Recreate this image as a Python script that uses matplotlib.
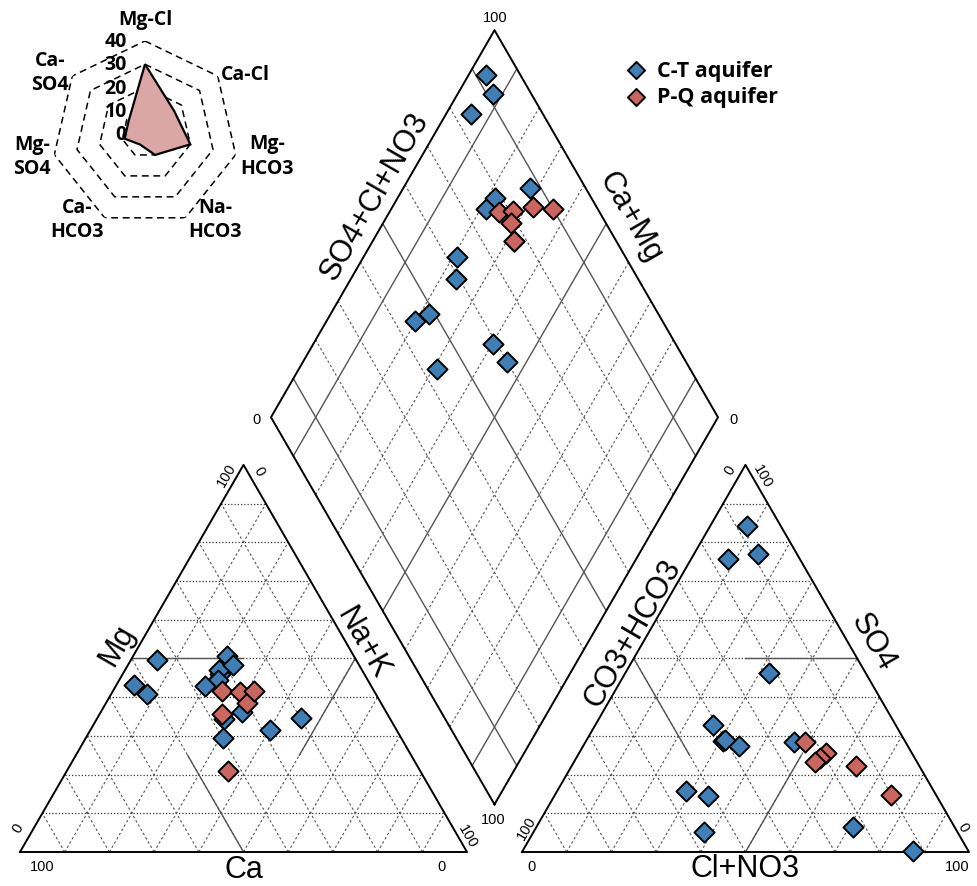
import numpy as np
import matplotlib
matplotlib.use("Agg")
import matplotlib.pyplot as plt

plt.rcParams['font.family'] = ['Liberation Sans', 'DejaVu Sans']

# ---- sample compositions (% meq) ----
# C-T aquifer
ct_ca   = [52.9, 51.3, 44.6, 37.2, 32.2, 28.3, 32.0, 28.1, 33.5, 37.2, 28.3, 19.9, 39.8, 32.3]
ct_mg   = [43.1, 40.8, 49.7, 34.4, 46.0, 50.6, 47.0, 48.3, 44.5, 43.0, 31.6, 34.5, 29.4, 36.1]
ct_nak  = [4.0, 7.9, 5.7, 28.4, 21.8, 21.1, 21.0, 23.6, 22.0, 19.8, 40.1, 45.6, 30.8, 31.6]
ct_hco3 = [7.6, 8.6, 16.0, 12.3, 21.6, 25.0, 37.7, 40.7, 51.2, 55.4, 40.9, 40.0, 56.7, 22.8]
ct_so4  = [84.3, 77.0, 75.7, 0.3, 46.2, 28.3, 27.5, 28.6, 14.5, 15.7, 32.9, 29.0, 5.1, 6.4]
ct_cl   = [8.1, 14.4, 8.3, 87.4, 32.2, 46.7, 34.8, 30.7, 34.3, 28.9, 26.2, 31.0, 38.2, 70.8]

# P-Q aquifer
pq_ca   = [33.9, 36.9, 30.1, 30.0, 26.9, 42.9]
pq_mg   = [41.6, 35.6, 41.4, 38.4, 41.5, 21.0]
pq_nak  = [24.5, 27.5, 28.5, 31.6, 31.6, 36.1]
pq_hco3 = [22.5, 19.2, 21.2, 22.8, 14.2, 10.1]
pq_so4  = [28.3, 25.7, 24.2, 23.3, 22.1, 14.7]
pq_cl   = [49.2, 55.1, 54.6, 53.9, 63.7, 75.2]

# hydrochemical facies frequency (radar)
radar_labels = ['Mg-Cl', 'Ca-Cl', 'Mg-\nHCO3', 'Na-\nHCO3', 'Ca-\nHCO3', 'Mg-\nSO4', 'Ca-\nSO4']
radar_values = [30, 16, 20, 10, 5, 9, 9]
radar_ticks = [0, 10, 20, 30, 40]

BLUE = '#3f7fb6'
RED = '#c9665f'
GRID = '#555555'

H = np.sqrt(3) / 2
GAP = 12.3                 # spacing between the two triangles
ANION_X0 = 100 + GAP
BX, BY = 100 + GAP / 2, GAP * H   # bottom corner of the diamond


def tern(left, top, right, x0=0.0):
    left, top, right = (np.asarray(v, float) for v in (left, top, right))
    tot = left + top + right
    return x0 + 100 * (right + top / 2) / tot, 100 * top / tot * H


def diamond(s, t):
    s, t = np.asarray(s, float), np.asarray(t, float)
    return BX + 0.5 * (t - s), BY + H * (s + t)


PX = 4.47  # pixels per percent
fig = plt.figure(figsize=(9.78, 8.87), dpi=100)
ax = fig.add_axes([0, 0, 1, 1])
ax.set_xlim(-20 / PX, (978 - 20) / PX)
ax.set_ylim((853 - 887) / PX, 853 / PX)
ax.axis('off')

dash_kw = dict(color=GRID, lw=0.8, ls=(0, (2.2, 2.2)), zorder=1)
dot_kw = dict(color='#333333', lw=0.9, ls=(0, (1, 1.6)), zorder=1)
solid_kw = dict(color=GRID, lw=1.0, zorder=2)

# ---- the two triangles ----
for x0 in (0.0, ANION_X0):
    for k in range(10, 100, 10):
        x, y = tern([100 - k, 0], [k, k], [0, 100 - k], x0)
        ax.plot(x, y, **dot_kw)
        x, y = tern([100 - k, 0], [0, 100 - k], [k, k], x0)
        ax.plot(x, y, **dash_kw)
        x, y = tern([k, k], [0, 100 - k], [100 - k, 0], x0)
        ax.plot(x, y, **dash_kw)
    x, y = tern([100, 0, 0, 100], [0, 100, 0, 0], [0, 0, 100, 0], x0)
    ax.plot(x, y, color='k', lw=1.4, zorder=3)

# 50 % lines
for seg in ([(50, 0, 50), (50, 25, 25)], [(50, 50, 0), (25, 50, 25)], [(0, 50, 50), (25, 25, 50)]):
    x, y = tern(*zip(*seg))
    ax.plot(x, y, **solid_kw)
for seg in ([(50, 50, 0), (50, 25, 25)], [(0, 50, 50), (25, 50, 25)], [(50, 0, 50), (25, 25, 50)]):
    x, y = tern(*zip(*seg), x0=ANION_X0)
    ax.plot(x, y, **solid_kw)

# ---- the diamond ----
for k in range(10, 100, 10):
    kw = solid_kw if k in (10, 50, 90) else dash_kw
    x, y = diamond([k, k], [0, 100])
    ax.plot(x, y, **kw)
    x, y = diamond([0, 100], [k, k])
    ax.plot(x, y, **kw)
x, y = diamond([0, 100, 100, 0, 0], [0, 0, 100, 100, 0])
ax.plot(x, y, color='k', lw=1.4, zorder=3)

# ---- samples ----
groups = [
    ('C-T aquifer', BLUE, ct_ca, ct_mg, ct_nak, ct_hco3, ct_so4, ct_cl),
    ('P-Q aquifer', RED, pq_ca, pq_mg, pq_nak, pq_hco3, pq_so4, pq_cl),
]
handles = []
for name, col, ca, mg, nak, hco3, so4, cl in groups:
    mk = dict(marker='D', s=105, c=col, edgecolors='k', linewidths=1.4, zorder=5)
    ax.scatter(*tern(ca, mg, nak), **mk)
    ax.scatter(*tern(hco3, so4, cl, ANION_X0), **mk)
    tot_c = np.add(np.add(ca, mg), nak)
    tot_a = np.add(np.add(hco3, so4), cl)
    s = 100 * (np.add(ca, mg)) / tot_c
    t = 100 * (np.add(so4, cl)) / tot_a
    handles.append(ax.scatter(*diamond(s, t), label=name, **mk))

# ---- axis titles ----
big = dict(fontsize=22, ha='center', va='center')
ax.text(21.7, 46.5, 'Mg', rotation=60, **big)
ax.text(76.7, 46.8, 'Na+K', rotation=-60, **big)
ax.text(50.0, -3.8, 'Ca', **big)
ax.text(79.4, 146.8, 'SO4+Cl+NO3', rotation=60, **big)
ax.text(136.5, 142.3, 'Ca+Mg', rotation=-60, **big)
ax.text(137.1, 49.2, 'CO3+HCO3', rotation=60, **big)
ax.text(190.8, 47.0, 'SO4', rotation=-60, **big)
ax.text(162.2, -3.6, 'Cl+NO3', **big)

# ---- scale labels ----
small = dict(fontsize=10.5, ha='center', va='center')
for x, y, s, r in [
        (46.3, 84.6, '100', 60), (53.4, 85.4, '0', -60), (-0.5, 5.6, '0', 60),
        (100.2, 3.6, '100', -60), (4.9, -3.1, '100', 0), (94.4, -3.1, '0', 0),
        (158.8, 85.6, '0', 60), (166.0, 84.1, '100', -60), (113.4, 5.6, '100', 60),
        (211.0, 5.8, '0', -60), (114.5, -3.1, '0', 0), (209.6, -3.1, '100', 0),
        (106.3, 186.8, '100', 0), (53.0, 96.9, '0', 0), (159.6, 96.9, '0', 0),
        (105.8, 7.4, '100', 0)]:
    ax.text(x, y, s, rotation=r, **small)

ax.legend(handles=handles, loc='upper left', bbox_to_anchor=(625 / 978, 1 - 61 / 887),
          bbox_transform=fig.transFigure, frameon=False, handlelength=1.0,
          handletextpad=0.5, borderpad=0, borderaxespad=0, labelspacing=0.25,
          markerscale=0.85, prop=dict(family='Open Sans', weight='bold', size=15.5))

# ---- radar inset ----
cx, cy, rad = 145, 135, 93
axr = fig.add_axes([(cx - rad) / 978, 1 - (cy + rad) / 887, 2 * rad / 978, 2 * rad / 887],
                   projection='polar')
axr.set_theta_zero_location('N')
axr.set_theta_direction(-1)
axr.set_ylim(0, 40)
axr.axis('off')
axr.patch.set_alpha(0)

theta = np.linspace(0, 2 * np.pi, len(radar_labels), endpoint=False)
th_c = np.append(theta, theta[0])
for r in radar_ticks[1:]:
    axr.plot(th_c, [r] * len(th_c), color='k', lw=1.1, ls=(0, (4.5, 3)))
vals = np.append(radar_values, radar_values[0])
axr.fill(th_c, vals, facecolor='#dba6a6', edgecolor='k', lw=1.6, zorder=3)

rfont = dict(family='Open Sans', weight='bold', size=14)
for r in radar_ticks:
    axr.annotate(str(r), xy=(0, r), xytext=(-13, 0), textcoords='offset points',
                 ha='right', va='center', **rfont)
lab_pos = [(0, 49.5), (59, 50.2), (100, 53.3), (140.5, 47.4), (218.7, 46.8), (259, 49.5), (303, 48.8)]
for lab, (ang, r) in zip(radar_labels, lab_pos):
    axr.text(np.deg2rad(ang), r, lab, ha='center', va='center', linespacing=1.3, **rfont)

fig.savefig('out.png', dpi=100)
